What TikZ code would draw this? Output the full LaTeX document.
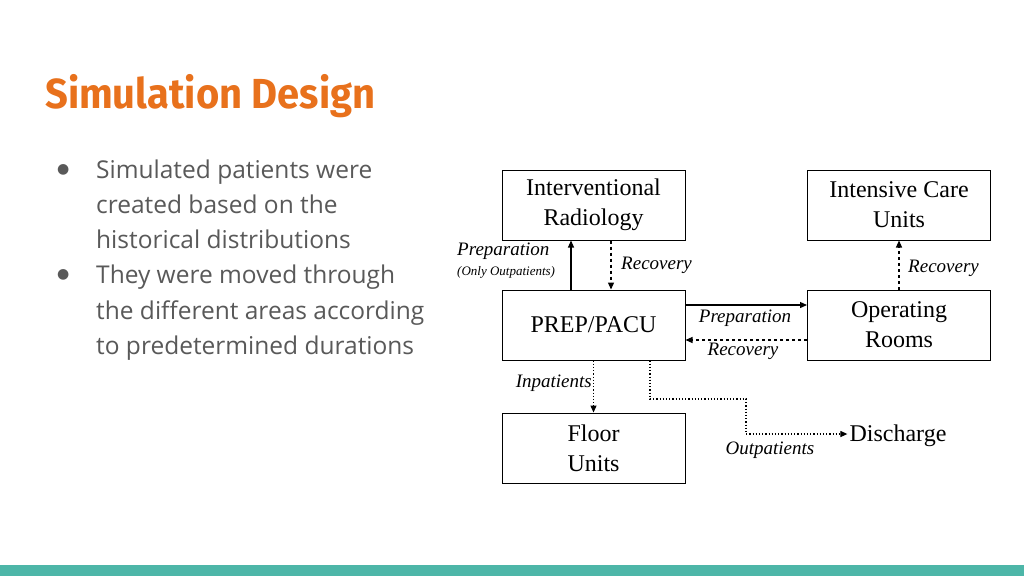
\documentclass[tikz,border=0pt]{standalone}
\usepackage{fontspec}
\setmainfont{Liberation Serif}
\newfontfamily\bodyfont{Open Sans}
\newfontfamily\titlefont{Fira Sans}
\newfontfamily\symfont{DejaVu Sans}
\usetikzlibrary{arrows.meta}
\definecolor{ttl}{HTML}{E8711C}
\definecolor{bar}{HTML}{4DB6A8}
\definecolor{txt}{HTML}{595959}
\begin{document}
\begin{tikzpicture}[x=1pt,y=-1pt,
 box/.style={draw,line width=1pt,minimum width=183pt,minimum height=70pt,align=center,font=\fontsize{24}{30}\selectfont,inner sep=0pt},
 lab/.style={font=\itshape\fontsize{19}{21}\selectfont,inner sep=1pt},
 arr/.style={-{Triangle[length=7pt,width=6pt]},line width=1.2pt},
 bul/.style={anchor=base west,text=txt,font=\bodyfont\fontsize{24.5}{28}\selectfont,inner sep=0pt},
 dot/.style={anchor=west,text=txt,font=\symfont\fontsize{14}{16}\selectfont,inner sep=0pt}]
\fill[white] (0,0) rectangle (1024,576);
\fill[bar] (0,565) rectangle (1024,576);
\node[anchor=base west,text=ttl,inner sep=0pt,font=\titlefont\bfseries\fontsize{42}{46}\selectfont,xscale=0.95] (title) at (45,108) {Simulation Design};
\node[dot] (b1) at (57,170) {●};
\node[bul] (t1) at (96,178) {Simulated patients were};
\node[bul] (t2) at (96,213) {created based on the};
\node[bul] (t3) at (96,248) {historical distributions};
\node[dot] (b2) at (57,275) {●};
\node[bul] (t4) at (96,283) {They were moved through};
\node[bul] (t5) at (96,319) {the different areas according};
\node[bul] (t6) at (96,354) {to predetermined durations};
\node[box] (ir) at (593.5,205) {Interventional\\Radiology};
\node[box] (icu) at (899,205) {Intensive Care\\Units};
\node[box] (prep) at (593.5,325) {PREP/PACU};
\node[box] (or) at (899,325) {Operating\\Rooms};
\node[box] (fl) at (593.5,448) {Floor\\Units};
\node[font=\fontsize{24}{28}\selectfont,inner sep=2pt] (dis) at (898,436) {Discharge};
\draw[arr] (prep.north -| 571,0) -- (ir.south -| 571,0);
\draw[arr,dashed] (ir.south -| 611,0) -- (prep.north -| 611,0);
\draw[arr,dashed] (or.north) -- (icu.south);
\draw[arr] (prep.east |- 0,305) -- (or.west |- 0,305);
\draw[arr,dashed] (or.west |- 0,340) -- (prep.east |- 0,340);
\draw[arr,dotted] (prep.south) -- (fl.north);
\coordinate (o1) at (650,399);
\coordinate (o2) at (746,399);
\coordinate (o3) at (746,434);
\draw[arr,dotted] (prep.south -| 650,0) -- (o1) -- (o2) -- (o3) -- (dis.west |- o3);
\node[lab,anchor=west] (lp) at (456,251) {Preparation};
\node[lab,anchor=west,font=\itshape\fontsize{13}{15}\selectfont] (lpo) at (456,272) {(Only Outpatients)};
\node[lab,anchor=west] (lr1) at (620,265) {Recovery};
\node[lab,anchor=west] (lr2) at (907,268) {Recovery};
\node[lab] (lp2) at (745,318) {Preparation};
\node[lab] (lr3) at (743,351) {Recovery};
\node[lab,anchor=east] (lin) at (593,383) {Inpatients};
\node[lab] (lout) at (770,450) {Outpatients};
\end{tikzpicture}
\end{document}
